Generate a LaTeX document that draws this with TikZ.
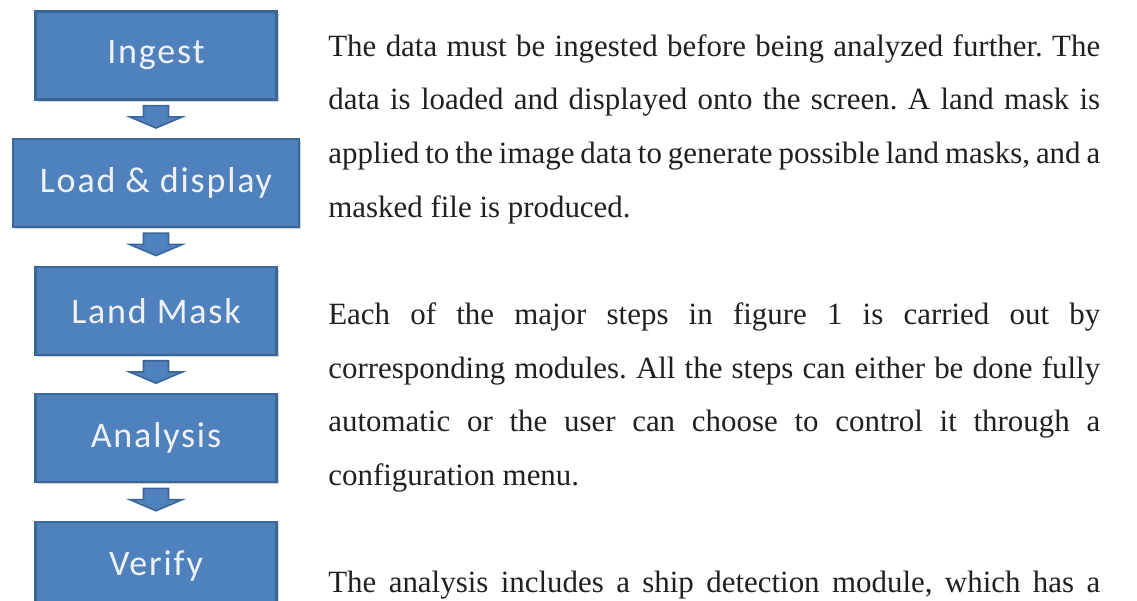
\documentclass[tikz,border=0pt]{standalone}
\usepackage{fontspec}
\setmainfont{Liberation Serif}
\newfontfamily\boxfont[LetterSpace=5]{Carlito}
\usetikzlibrary{positioning,calc,shadows}
\definecolor{stepblue}{HTML}{4F81BD}
\definecolor{stepedge}{HTML}{3A6698}
\definecolor{steptext}{HTML}{EEF2F8}
\definecolor{ink}{HTML}{231F20}
\tolerance=9999
\hbadness=10000
\frenchspacing
\tikzset{
  stepbox/.style={draw=stepedge, line width=1.2pt, fill=stepblue, text=steptext, font=\boxfont\fontsize{20.5pt}{24pt}\selectfont, minimum width=4.82cm, minimum height=1.76cm, inner sep=0pt, drop shadow={shadow xshift=1.2pt, shadow yshift=-1.2pt, opacity=.35}},
  widebox/.style={stepbox, minimum width=5.72cm},
  flowarrow/.style={draw=stepedge, line width=0.9pt, fill=stepblue, line join=miter},
  para/.style={anchor=base west, inner sep=0pt, text width=15.44cm, align=justify, text=ink, font=\fontsize{17.6pt}{30.55pt}\selectfont}
}

\begin{document}
\begin{tikzpicture}[x=0.02cm, y=-0.02cm, node distance=0.75cm]
\useasboundingbox (0,0) rectangle (1137,600);
\clip (0,0) rectangle (1137,600);
\node[stepbox] (ingest) at (156,55.5) {Ingest};
\node[widebox, below=of ingest] (load) {Load \& display};
\node[stepbox, below=of load] (mask) {Land Mask};
\node[stepbox, below=of mask] (analysis) {Analysis};
\node[stepbox, below=of analysis] (verify) {Verify};
% block arrows between the steps
\foreach \a/\b in {ingest/load, load/mask, mask/analysis, analysis/verify} {
  \coordinate (s) at ($(\a.south)+(0,5)$);
  \coordinate (t) at ($(s |- \b.north)+(0,-10)$);
  \coordinate (m) at ($(s)!0.5!(t)$);
  \draw[flowarrow] ($(s)+(-12.5,0)$) -- ($(s)+(12.5,0)$) -- ($(m)+(12.5,0)$)
    -- ($(m)+(26.5,0)$) -- (t) -- ($(m)+(-26.5,0)$) -- ($(m)+(-12.5,0)$) -- cycle;
}
\node[para] (text) at (328,56) {The data must be ingested before being analyzed further. The\linebreak data is loaded and displayed onto the screen. A land mask is\linebreak applied to the image data to generate possible land masks, and a\linebreak masked file is produced.\par\vspace{30.55pt}
Each of the major steps in figure 1 is carried out by\linebreak corresponding modules. All the steps can either be done fully\linebreak automatic or the user can choose to control it through a\linebreak configuration menu.\par\vspace{30.55pt}
{\parfillskip=0pt The analysis includes a ship detection module, which has a\par}};
\end{tikzpicture}
\end{document}
